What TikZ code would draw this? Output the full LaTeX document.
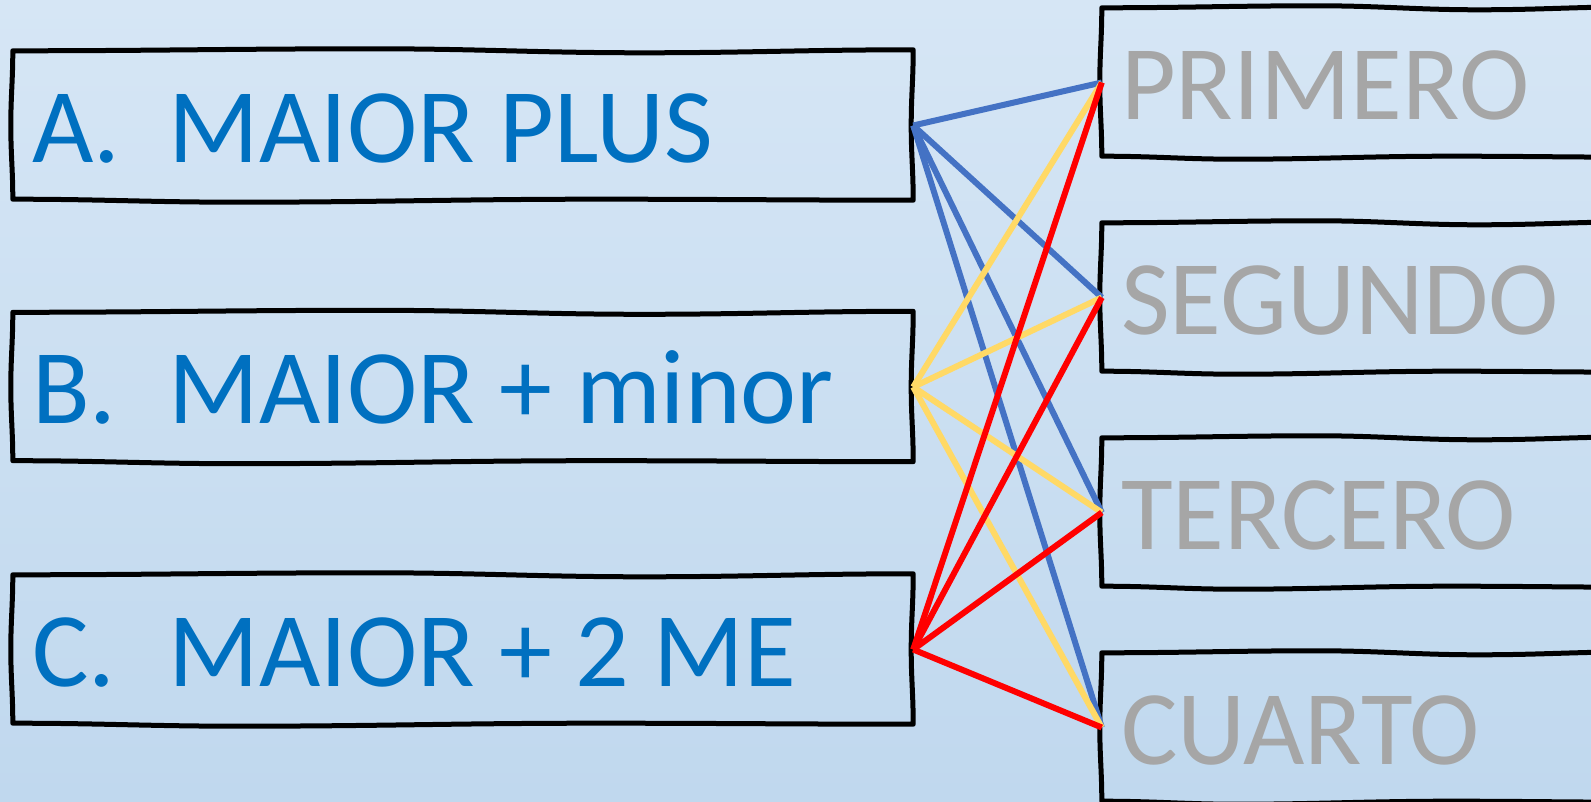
\documentclass[tikz,border=0pt]{standalone}
\usepackage{fontspec}
\setmainfont{Carlito}
\usetikzlibrary{calc}
\usetikzlibrary{positioning}

\definecolor{bgtop}{HTML}{D6E6F5}
\definecolor{bgmid}{HTML}{B5D1EB}
\definecolor{bgbot}{HTML}{C0D8EE}
\definecolor{textblue}{HTML}{0070C0}
\definecolor{textgray}{HTML}{A6A6A6}
\definecolor{lineblue}{HTML}{4472C4}
\definecolor{lineyellow}{HTML}{FFD966}
\definecolor{linered}{HTML}{FF0000}

\newcommand{\bigfont}{\fontsize{106}{127}\selectfont}

% hand drawn outline round a box node
\newcommand{\sketchbox}[1]{%
\draw[boxline] (#1.north west)
  to[out=0,in=180] ($(#1.north west)!0.4!(#1.north east)+(0,2)$)
  to[out=0,in=180] ($(#1.north west)!0.7!(#1.north east)+(0,-2)$)
  to[out=0,in=180] ($(#1.north east)+(0,1)$)
  to[out=-90,in=90] ($(#1.north east)!0.5!(#1.south east)+(-2,0)$)
  to[out=-90,in=90] (#1.south east)
  to[out=180,in=0] ($(#1.south east)!0.35!(#1.south west)+(0,1)$)
  to[out=180,in=0] ($(#1.south east)!0.75!(#1.south west)+(0,-2)$)
  to[out=180,in=0] ($(#1.south west)+(0,1)$)
  to[out=90,in=-90] ($(#1.south west)!0.5!(#1.north west)+(-2,0)$)
  to[out=90,in=-90] (#1.north west) -- cycle;}

\tikzset{
  box/.style={rectangle,inner sep=0pt,minimum height=149pt},
  leftbox/.style={box,minimum width=900pt},
  rightbox/.style={box,minimum width=538pt},
  boxline/.style={line width=5pt,line join=round,draw=black},
  lefttext/.style={inner sep=0pt,anchor=base west,text=textblue,font=\bigfont},
  righttext/.style={inner sep=0pt,anchor=base west,text=textgray,font=\bigfont},
  link/.style={line width=6pt}
}

\begin{document}
\begin{tikzpicture}[x=1pt,y=1pt]
\clip (0,0) rectangle (1591,801);
\shade[top color=bgtop,middle color=bgmid,bottom color=bgbot] (0,0) rectangle (1591,801);

% left column
\node[leftbox] (a) at (463,675.5) {};
\node[leftbox] (b) at (463,414) {};
\node[leftbox] (c) at (463,151.5) {};
% right column
\node[rightbox] (pri) at (1371,718.5) {};
\node[rightbox] (seg) at (1371,503.5) {};
\node[rightbox] (ter) at (1371,288.5) {};
\node[rightbox] (cua) at (1371,73.5) {};

\foreach \n in {a,b,c,pri,seg,ter,cua}
  \sketchbox{\n};

\node[lefttext] (ta) at ($(a.west)+(19,-37)$) {\makebox[137pt][l]{A.}MAIOR PLUS};
\node[lefttext] (tb) at ($(b.west)+(19,-37)$) {\makebox[137pt][l]{B.}MAIOR + minor};
\node[lefttext] (tc) at ($(c.west)+(19,-37)$) {\makebox[137pt][l]{C.}MAIOR + 2 ME};

\node[righttext] (tpri) at ($(pri.west)+(19,-37)$) {PRIMERO};
\node[righttext] (tseg) at ($(seg.west)+(19,-37)$) {SEGUNDO};
\node[righttext] (tter) at ($(ter.west)+(19,-37)$) {TERCERO};
\node[righttext] (tcua) at ($(cua.west)+(19,-37)$) {CUARTO};

% connectors
\foreach \t in {pri,seg,ter,cua}
  \draw[link,color=lineblue] (a.east) -- (\t.west);
\foreach \t in {pri,seg,ter,cua}
  \draw[link,color=lineyellow] (b.east) -- (\t.west);
\foreach \t in {pri,seg,ter,cua}
  \draw[link,color=linered] (c.east) -- (\t.west);
\end{tikzpicture}
\end{document}
